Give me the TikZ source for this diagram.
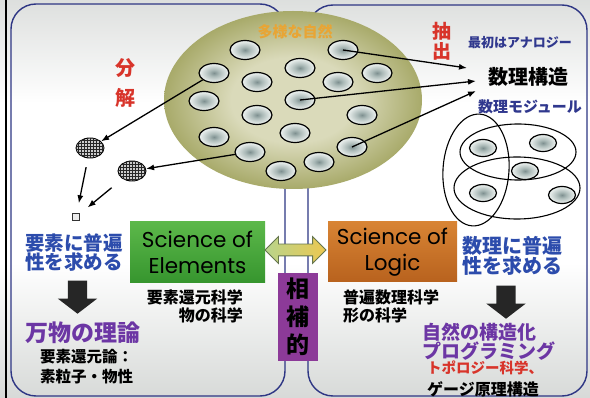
\documentclass[tikz,border=0pt]{standalone}
\usepackage{fontspec}
\newfontfamily\jp{Noto Sans CJK JP}
\newfontfamily\sci{Poppins}
\usetikzlibrary{shapes.geometric,shapes.arrows,arrows.meta,patterns}
\definecolor{bgtop}{HTML}{B0B4B2}
\definecolor{bgmid}{HTML}{D0D3D1}
\definecolor{bgbot}{HTML}{B8BCBA}
\definecolor{panelc}{HTML}{2E3684}
\definecolor{cellin}{HTML}{7E9090}
\definecolor{cellmid}{HTML}{A9B8B6}
\definecolor{cellout}{HTML}{E4EAE8}
\definecolor{natin}{HTML}{DADABA}
\definecolor{natout}{HTML}{A8AA6A}
\definecolor{natorange}{HTML}{E8A535}
\definecolor{redtxt}{HTML}{D8342A}
\definecolor{bluetxt}{HTML}{2C4CAC}
\definecolor{navytxt}{HTML}{30388E}
\definecolor{purptxt}{HTML}{6C36A4}
\definecolor{greentop}{HTML}{5CB84A}
\definecolor{greenbot}{HTML}{36952E}
\definecolor{orangetop}{HTML}{D88434}
\definecolor{orangebot}{HTML}{B8621E}
\definecolor{purpbox}{HTML}{8C3A98}
\definecolor{arrleft}{HTML}{B8D48C}
\definecolor{arrright}{HTML}{ECC850}
\pgfdeclareverticalshading{bgsh}{100bp}{color(0bp)=(bgbot); color(22bp)=(bgmid); color(42bp)=(white); color(62bp)=(white); color(80bp)=(bgmid); color(100bp)=(bgtop)}
\pgfdeclareradialshading{cellsh}{\pgfpoint{0bp}{0bp}}{color(0bp)=(cellin); color(8bp)=(cellmid); color(22bp)=(cellout); color(50bp)=(cellout)}
\pgfdeclareradialshading{natsh}{\pgfpoint{0bp}{0bp}}{color(0bp)=(natin); color(12bp)=(natin); color(25bp)=(natout); color(50bp)=(natout)}
\begin{document}
\begin{tikzpicture}[x=1pt,y=-1pt,
  panel/.style={draw=panelc, line width=1.4pt, rounded corners=25pt},
  nature/.style={ellipse, minimum width=258pt, minimum height=178pt, inner sep=0pt, shading=natsh},
  cell/.style={ellipse, draw=black, line width=1.2pt, minimum width=30pt, minimum height=19pt, inner sep=0pt, shading=cellsh},
  mcell/.style={cell, minimum width=27pt, minimum height=17pt},
  hatch/.style={ellipse, draw=black, line width=0.9pt, minimum width=28pt, minimum height=20pt, inner sep=0pt, fill=gray!40, postaction={pattern=grid, pattern color=black!85}},
  group/.style={ellipse, draw=black, line width=1.1pt, inner sep=0pt},
  arr/.style={-{Latex[length=8pt,width=6pt]}, line width=1.3pt, black},
  jpt/.style={font=\jp\bfseries, inner sep=0pt},
  sbox/.style={minimum width=135pt, minimum height=61pt, inner sep=0pt, align=center, font=\sci\fontsize{21.5}{26}\selectfont, text=black},
  downarr/.style={single arrow, fill=black!85, draw=none, shape border rotate=270, minimum height=33pt, minimum width=39pt, inner sep=9.5pt, single arrow head extend=10pt, single arrow tip angle=105}
]
\useasboundingbox (0,0) rectangle (590,398);
\shade[shading=bgsh] (0,0) rectangle (590,398);
\draw[black, line width=2pt] (5.5,0) -- (5.5,398);
% panels
\draw[panel] (11,4) rectangle (285,396);
\draw[panel] (308,5) rectangle (587,396);
% nature ellipse
\node[nature] (nat) at (293,100) {};
\node[jpt, text=natorange, font=\jp\bfseries\fontsize{15}{15}\selectfont] (natlbl) at (295,32) {多様な自然};
\foreach \n/\x/\y in {1/245/50, 2/343/50, 3/214/73, 4/300/68, 5/377/73, 6/257/82, 7/338/82, 8/204/101, 9/300/100, 10/257/115, 11/362/115, 12/214/137, 13/295/133, 14/250/152, 15/352/147, 16/319/162, 17/281/171}
  \node[cell] (c\n) at (\x,\y) {};
% decomposition
\node[jpt, text=redtxt, align=center, font=\jp\bfseries\fontsize{20}{30}\selectfont] (bunkai) at (125,83) {分\\解};
\node[hatch] (hA) at (90,148) {};
\node[hatch] (hB) at (132,171) {};
\node[draw=black!80, line width=0.8pt, fill=gray!15, minimum size=7pt, inner sep=0pt] (sq) at (76,217) {};
\draw[arr] (c3) -- (hA);
\draw[arr] (c14) -- (hB);
\draw[arr, shorten <=9pt, shorten >=10pt] (hA) -- (sq);
\draw[arr, shorten <=14pt, shorten >=10pt] (hB) -- (sq);
% extraction
\node[jpt, text=redtxt, align=center, font=\jp\bfseries\fontsize{19}{20}\selectfont] (chushutsu) at (442,41) {抽\\出};
\node[jpt, text=navytxt, font=\jp\bfseries\fontsize{13}{13}\selectfont] (saisho) at (520,43) {最初はアナロジー};
\node[jpt, text=black, font=\jp\bfseries\fontsize{20}{20}\selectfont] (suri) at (528,77) {数理構造};
\node[jpt, text=navytxt, font=\jp\bfseries\fontsize{15}{15}\selectfont] (module) at (530,107) {数理モジュール};
\coordinate (t1) at (467,68);
\coordinate (t2) at (476,81);
\coordinate (t3) at (476,91);
\draw[arr] (c2.center) -- (t1);
\draw[arr] (c9.center) -- (t2);
\draw[arr] (c15.center) -- (t3);
% module diagram
\node[mcell] (m1) at (483,148) {};
\node[mcell] (m2) at (543,143) {};
\node[mcell] (m3) at (525,171) {};
\node[mcell] (m4) at (483,193) {};
\node[mcell] (m5) at (562,195) {};
\node[group, minimum width=66pt, minimum height=112pt, rotate=-4] (g1) at (476,170) {};
\node[group, minimum width=116pt, minimum height=56pt] (g2) at (518,152) {};
\node[group, minimum width=126pt, minimum height=62pt] (g3) at (517,188) {};
% central boxes
\node[sbox, top color=greentop, bottom color=greenbot] (elem) at (197.5,252.5) {Science of\\Elements};
\node[sbox, minimum width=129pt, minimum height=60pt, top color=orangetop, bottom color=orangebot] (logic) at (392.5,252) {Science of\\Logic};
\node[double arrow, draw=black!45!arrleft, line width=0.8pt, left color=arrleft, right color=arrright, minimum height=61pt, minimum width=26pt, inner sep=5.5pt, double arrow head extend=7.5pt] (dbl) at (295.5,250) {};
\node[fill=purpbox, minimum width=40pt, minimum height=88pt, inner sep=0pt, align=center, font=\jp\bfseries\fontsize{23}{28}\selectfont] (sohoteki) at (298,317) {相\\補\\的};
% left panel texts
\node[jpt, text=bluetxt, anchor=west, align=left, font=\jp\bfseries\fontsize{19.5}{19}\selectfont] (req1) at (25,252.5) {要素に普遍\\性を求める};
\node[downarr] (da1) at (77.5,293.5) {};
\node[jpt, text=purptxt, anchor=west, font=\jp\bfseries\fontsize{23}{23}\selectfont] (banbutsu) at (25,333) {万物の理論};
\node[jpt, text=black, anchor=west, align=left, font=\jp\bfseries\fontsize{15.5}{20}\selectfont] (yoso) at (40,367) {要素還元論：\\素粒子・物性};
\node[jpt, text=black, anchor=east, align=right, font=\jp\bfseries\fontsize{16}{18}\selectfont] (yk) at (243,306) {要素還元科学\\物の科学};
% right panel texts
\node[jpt, text=black, anchor=west, align=left, font=\jp\bfseries\fontsize{16}{18}\selectfont] (fu) at (343,306) {普遍数理科学\\形の科学};
\node[jpt, text=bluetxt, anchor=west, align=left, font=\jp\bfseries\fontsize{20}{18}\selectfont] (req2) at (462,256) {数理に普遍\\性を求める};
\node[downarr, minimum width=38pt] (da2) at (506,298.5) {};
\node[jpt, text=purptxt, anchor=west, align=left, font=\jp\bfseries\fontsize{19}{17}\selectfont] (shizen) at (422,341.5) {自然の構造化\\プログラミング};
\node[jpt, text=redtxt, anchor=west, font=\jp\bfseries\fontsize{14.5}{14.5}\selectfont] (topo) at (427,368) {トポロジー科学、};
\node[jpt, text=black, anchor=west, font=\jp\bfseries\fontsize{16}{16}\selectfont] (gauge) at (427,389) {ゲージ原理構造};
\end{tikzpicture}
\end{document}
